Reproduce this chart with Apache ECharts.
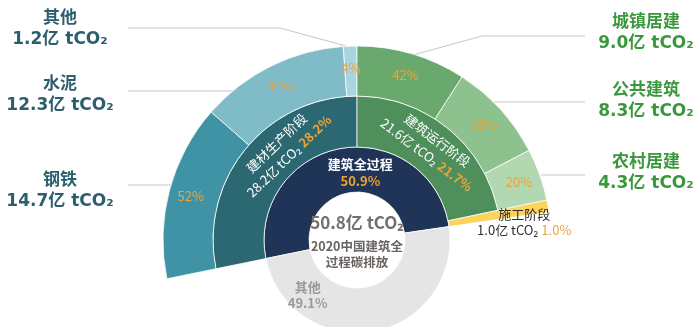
<!DOCTYPE html>
<html>
<head>
<meta charset="utf-8">
<script src="https://cdn.jsdelivr.net/npm/echarts@6/dist/echarts.min.js"></script>
<style>
  html, body { margin: 0; padding: 0; background: #ffffff; }
  #chart { width: 700px; height: 327px; }
</style>
</head>
<body>
<div id="chart"></div>
<script>
// 2020 中国建筑全过程碳排放构成
const wholeNames = ['建筑全过程', '其他'];
const wholeShares = [50.9, 49.1];               // 占全国碳排放 %
const totalEmission = 50.8;                     // 亿 tCO2
const centerCaption = ['2020中国建筑全', '过程碳排放'];

const stageNames = ['建材生产阶段', '建筑运行阶段', '施工阶段'];
const stageShares = [28.2, 21.7, 1.0];          // 占全国碳排放 %
const stageEmissions = [28.2, 21.6, 1.0];       // 亿 tCO2

const materialNames = ['钢铁', '水泥', '其他'];
const materialPct = [52, 44, 4];                // 占建材生产阶段 %
const materialEmissions = [14.7, 12.3, 1.2];    // 亿 tCO2

const operationNames = ['城镇居建', '公共建筑', '农村居建'];
const operationPct = [42, 38, 20];              // 占建筑运行阶段 %
const operationEmissions = [9.0, 8.3, 4.3];     // 亿 tCO2

// ---- geometry & style ----
const CENTER = [357, 240];
const R_HOLE = 48, R_INNER = 93, R_MID = 144, R_OUTER = 194;
// the boundary between 建材 and 运行 sits at 12 o'clock
const START = 90 + 360 * stageShares[0] / 100;

const ORANGE = '#EBA43A';
const TEAL_TEXT = '#2c5f6e';
const GREEN_TEXT = '#3a983c';
const CJK = '"Noto Sans CJK SC", "Noto Sans", sans-serif';
const WIDE = '"DejaVu Sans", "Noto Sans CJK SC", sans-serif';
const SEP = { borderColor: 'rgba(255,255,255,0.75)', borderWidth: 1 };
const CO2 = 'tCO₂';

const materialColors = ['#3f93a4', '#80bcc8', '#a9d5df'];
const operationColors = ['#69a96e', '#8dc18d', '#b2d8b1'];

function blank(v) {
  return {
    value: v,
    itemStyle: { color: 'transparent', borderWidth: 0 },
    label: { show: false },
    emphasis: { disabled: true }
  };
}

const base = {
  type: 'pie',
  center: CENTER,
  startAngle: START,
  clockwise: true,
  silent: true,
  animation: false,
  avoidLabelOverlap: false,
  labelLine: { show: false }
};

// inner ring: 建筑全过程 vs 其他
const innerSeries = Object.assign({}, base, {
  radius: [R_HOLE, R_INNER],
  data: [
    {
      name: wholeNames[0], value: wholeShares[0],
      itemStyle: Object.assign({ color: '#203457' }, SEP),
      label: { formatter: '{t|' + wholeNames[0] + '}\n{p|' + wholeShares[0].toFixed(1) + '%}' }
    },
    {
      name: wholeNames[1], value: wholeShares[1],
      itemStyle: Object.assign({ color: '#e5e5e5' }, SEP),
      label: { formatter: '{g|' + wholeNames[1] + '}\n{g|' + wholeShares[1].toFixed(1) + '%}' }
    }
  ],
  label: {
    show: true, position: 'inside',
    rich: {
      t: { color: '#ffffff', fontSize: 13, fontWeight: 'bold', fontFamily: CJK, lineHeight: 17 },
      p: { color: ORANGE, fontSize: 13, fontWeight: 'bold', fontFamily: CJK, lineHeight: 17 },
      g: { color: '#9a9a9a', fontSize: 13, fontWeight: 'bold', fontFamily: CJK, lineHeight: 16 }
    }
  },
  labelLayout: function (p) {
    return p.dataIndex === 0 ? { dx: 16, dy: 5 } : { dx: -62, dy: -17 };
  }
});

// middle ring: stages
function stageLabel(i) {
  return '{w|' + stageNames[i] + '}\n{w|' + stageEmissions[i].toFixed(1) + '亿 ' + CO2 + '} {o|' +
    stageShares[i].toFixed(1) + '%}';
}
// label placement along the ring (angle offset in degrees, radius, text rotation)
const stageLabelPlace = [
  { da: -11.4, r: 117, rot: 44 },
  { da: 0, r: 119, rot: -37 }
];
const midSeries = Object.assign({}, base, {
  radius: [R_INNER, R_MID],
  data: [
    { name: stageNames[0], value: stageShares[0], itemStyle: Object.assign({ color: '#2c6872' }, SEP),
      label: { formatter: stageLabel(0) } },
    { name: stageNames[1], value: stageShares[1], itemStyle: Object.assign({ color: '#4f8f5c' }, SEP),
      label: { formatter: stageLabel(1) } },
    blank(stageShares[2]),
    blank(wholeShares[1])
  ],
  label: {
    show: true, position: 'inside',
    rich: {
      w: { color: '#ffffff', fontSize: 13, fontFamily: CJK, lineHeight: 18 },
      o: { color: ORANGE, fontSize: 13, fontWeight: 'bold', fontFamily: CJK, lineHeight: 18 }
    }
  },
  labelLayout: function (p) {
    const i = p.dataIndex;
    const place = stageLabelPlace[i];
    if (!place) return {};
    let before = 0;
    for (let k = 0; k < i; k++) before += stageShares[k];
    const mid = START - 360 * (before + stageShares[i] / 2) / 100 + place.da;
    const a = mid * Math.PI / 180;
    return {
      x: CENTER[0] + place.r * Math.cos(a),
      y: CENTER[1] - place.r * Math.sin(a),
      rotate: place.rot
    };
  }
});

// outer ring: breakdown of 建材 and 运行
const outerData = [];
materialNames.forEach(function (n, i) {
  outerData.push({ name: n, value: stageShares[0] * materialPct[i] / 100,
    itemStyle: Object.assign({ color: materialColors[i] }, SEP),
    label: { formatter: materialPct[i] + '%' } });
});
operationNames.forEach(function (n, i) {
  outerData.push({ name: n, value: stageShares[1] * operationPct[i] / 100,
    itemStyle: Object.assign({ color: operationColors[i] }, SEP),
    label: { formatter: operationPct[i] + '%' } });
});
outerData.push(blank(stageShares[2]));
outerData.push(blank(wholeShares[1]));

const outerSeries = Object.assign({}, base, {
  radius: [R_MID, R_OUTER],
  data: outerData,
  label: { show: true, position: 'inside', color: ORANGE, fontSize: 13, fontFamily: CJK }
});

// 施工阶段 spans both outer rings
const buildSeries = Object.assign({}, base, {
  radius: [R_INNER, R_OUTER],
  data: [
    blank(stageShares[0] + stageShares[1]),
    { name: stageNames[2], value: stageShares[2], itemStyle: Object.assign({ color: '#fcd35b' }, SEP),
      label: { formatter: '{k|' + stageNames[2] + '}\n{k|' + stageEmissions[2].toFixed(1) + '亿 ' + CO2 +
        '} {o|' + stageShares[2].toFixed(1) + '%}' } },
    blank(wholeShares[1])
  ],
  label: {
    show: true, position: 'inside',
    rich: {
      k: { color: '#2e2e2e', fontSize: 13, fontFamily: CJK, lineHeight: 16 },
      o: { color: ORANGE, fontSize: 13, fontFamily: CJK, lineHeight: 16 }
    }
  },
  labelLayout: function () { return { dx: 23, dy: 8 }; }
});

// side captions and leader lines
const graphics = [];
const LINE = { stroke: '#c8c8c8', lineWidth: 1.2 };
function caption(x, y, name, value, color) {
  graphics.push({
    type: 'text', x: x, y: y, silent: true,
    style: {
      text: name + '\n' + value.toFixed(1) + '亿 ' + CO2,
      fill: color, font: 'bold 17px ' + WIDE,
      align: 'center', verticalAlign: 'middle', lineHeight: 21
    }
  });
}
function leader(points) {
  graphics.push({ type: 'polyline', silent: true, shape: { points: points }, style: LINE });
}

// left: 钢铁, 水泥, 其他
const leftY = [191, 95, 29];
const leftLines = [
  [[128, 185], [173, 185]],
  [[128, 91], [236, 91]],
  [[128, 28], [280, 28], [346, 46]]
];
materialNames.forEach(function (n, i) {
  caption(60, leftY[i], n, materialEmissions[i], TEAL_TEXT);
  leader(leftLines[i]);
});

// right: 城镇居建, 公共建筑, 农村居建
const rightY = [33, 101, 173];
const rightLines = [
  [[413, 55], [482, 36], [585, 36]],
  [[494, 102], [585, 102]],
  [[541, 175], [585, 175]]
];
operationNames.forEach(function (n, i) {
  caption(646, rightY[i], n, operationEmissions[i], GREEN_TEXT);
  leader(rightLines[i]);
});

// centre text
graphics.push({
  type: 'text', x: CENTER[0], y: 223, silent: true, z: 10,
  style: { text: totalEmission.toFixed(1) + '亿 ' + CO2, fill: '#75706c',
    font: 'bold 17px ' + CJK, align: 'center', verticalAlign: 'middle' }
});
graphics.push({
  type: 'text', x: CENTER[0], y: 254, silent: true, z: 10,
  style: { text: centerCaption.join('\n'), fill: '#696461',
    font: 'bold 12.5px ' + CJK, align: 'center', verticalAlign: 'middle', lineHeight: 16 }
});

const chart = echarts.init(document.getElementById('chart'), null, { renderer: 'canvas' });
chart.setOption({
  backgroundColor: '#ffffff',
  animation: false,
  series: [innerSeries, midSeries, outerSeries, buildSeries],
  graphic: graphics
});
</script>
</body>
</html>
